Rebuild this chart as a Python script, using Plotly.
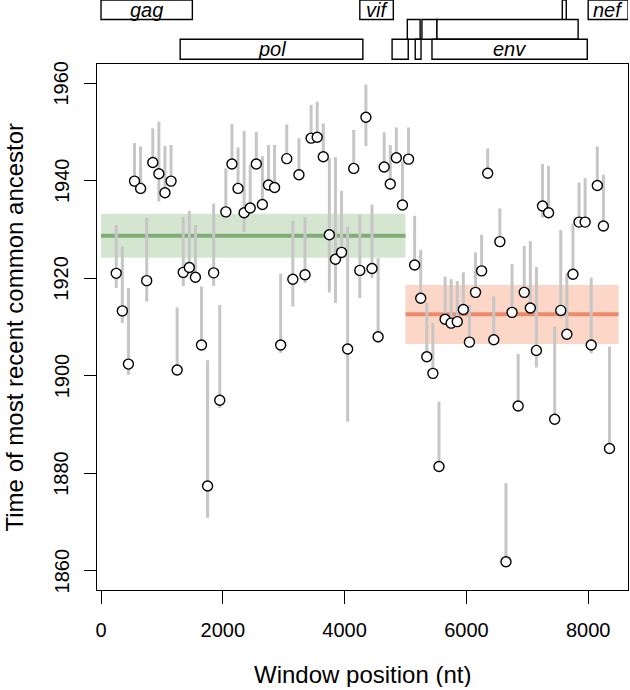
import plotly.graph_objects as go

# ---------------- data ----------------
window_pos = [250, 350, 450, 550, 650, 750, 850, 950, 1050, 1150,
              1250, 1350, 1450, 1550, 1650, 1750, 1850, 1950, 2050, 2150,
              2250, 2350, 2450, 2550, 2650, 2750, 2850, 2950, 3050, 3150,
              3250, 3350, 3450, 3550, 3650, 3750, 3850, 3950, 4050, 4150,
              4250, 4350, 4450, 4550, 4650, 4750, 4850, 4950, 5050, 5150,
              5250, 5350, 5450, 5550, 5650, 5750, 5850, 5950, 6050, 6150,
              6250, 6350, 6450, 6550, 6650, 6750, 6850, 6950, 7050, 7150,
              7250, 7350, 7450, 7550, 7650, 7750, 7850, 7950, 8050, 8150,
              8250, 8350]

tmrca = [1921.0, 1913.3, 1902.4, 1939.9, 1938.4, 1919.5, 1943.7, 1941.4, 1937.5, 1939.9,
         1901.2, 1921.2, 1922.2, 1920.2, 1906.3, 1877.4, 1921.1, 1895.0, 1933.6, 1943.4,
         1938.4, 1933.4, 1934.4, 1943.4, 1935.1, 1939.1, 1938.6, 1906.3, 1944.5, 1919.8,
         1941.2, 1920.7, 1948.7, 1948.9, 1944.9, 1928.9, 1923.9, 1925.3, 1905.5, 1942.5,
         1921.6, 1953.0, 1922.0, 1908.0, 1942.8, 1939.3, 1944.7, 1935.0, 1944.4, 1922.7,
         1915.9, 1903.9, 1900.5, 1881.4, 1911.6, 1910.8, 1911.1, 1913.6, 1906.9, 1917.1,
         1921.5, 1941.5, 1907.4, 1927.5, 1861.9, 1913.0, 1893.8, 1917.1, 1913.9, 1905.2,
         1934.8, 1933.4, 1891.1, 1913.4, 1908.5, 1920.8, 1931.5, 1931.5, 1906.3, 1939.0,
         1930.7, 1885.1]

upper = [1930.9, 1926.5, 1918.0, 1947.7, 1947.0, 1932.4, 1950.7, 1952.1, 1947.1, 1947.3,
         1914.0, 1932.6, 1933.8, 1930.9, 1918.3, 1903.2, 1935.3, 1914.5, 1942.5, 1951.6,
         1946.8, 1950.2, 1943.2, 1950.0, 1945.0, 1947.3, 1947.3, 1920.9, 1951.5, 1931.8,
         1948.7, 1932.5, 1955.5, 1956.2, 1951.7, 1944.6, 1944.8, 1937.9, 1930.6, 1950.4,
         1933.0, 1959.7, 1935.1, 1924.1, 1949.9, 1947.3, 1950.9, 1943.9, 1950.9, 1932.8,
         1925.8, 1915.0, 1910.9, 1894.7, 1920.3, 1919.8, 1919.4, 1921.2, 1914.5, 1925.3,
         1928.9, 1946.6, 1916.3, 1934.3, 1878.0, 1922.9, 1904.5, 1926.6, 1927.6, 1922.3,
         1943.4, 1943.0, 1910.1, 1929.9, 1921.0, 1931.2, 1939.6, 1940.5, 1920.1, 1947.0,
         1941.2, 1906.0]

lower = [1918.0, 1910.8, 1900.2, 1939.5, 1938.0, 1915.2, 1943.2, 1935.7, 1937.0, 1939.5,
         1900.8, 1918.4, 1921.5, 1919.8, 1905.8, 1870.9, 1918.4, 1893.4, 1933.2, 1943.0,
         1938.0, 1929.5, 1934.0, 1943.0, 1934.0, 1938.7, 1938.2, 1904.7, 1944.1, 1914.2,
         1940.8, 1919.0, 1948.3, 1948.5, 1944.5, 1917.1, 1914.9, 1924.0, 1890.6, 1942.1,
         1915.9, 1947.1, 1920.0, 1906.7, 1942.4, 1938.9, 1944.3, 1934.6, 1944.0, 1922.3,
         1915.5, 1903.5, 1900.1, 1881.0, 1911.2, 1910.4, 1910.7, 1913.2, 1906.5, 1916.7,
         1921.1, 1941.1, 1907.0, 1927.1, 1861.5, 1912.6, 1893.4, 1916.7, 1913.5, 1901.7,
         1932.4, 1933.0, 1890.7, 1911.8, 1908.1, 1920.4, 1931.1, 1931.1, 1904.6, 1938.6,
         1930.3, 1884.7]

# regional summaries (start, end, mean, lower, upper)
region_start = [0, 5000]
region_end = [5000, 8500]
region_mean = [1928.7, 1912.6]
region_low = [1924.2, 1906.5]
region_high = [1933.2, 1918.6]
region_fill = ["#d4e6cf", "#fcd6c6"]
region_line = ["#80ad76", "#ee8a6c"]

# gene map: name, start, end, row (0 = bottom, 2 = top), rows spanned
gene_names = ["gag", "vif", "", "nef", "", "", "", "pol", "", "", "env"]
gene_start = [0, 4250, 7575, 8000, 5030, 5270, 5517, 1300, 4780, 5160, 5435]
gene_end = [1500, 4800, 7640, 8655, 5240, 5517, 7835, 4300, 5045, 5255, 7985]
gene_row = [2, 2, 2, 2, 1, 1, 1, 0, 0, 0, 0]
gene_span = [1, 1, 2, 1, 1, 1, 1, 1, 1, 1, 1]

x_ticks = [0, 2000, 4000, 6000, 8000]
y_ticks = [1860, 1880, 1900, 1920, 1940, 1960]

FONT = "Liberation Sans, Arial, sans-serif"

fig = go.Figure()

# error segments
bx, by = [], []
for xp, lo, hi in zip(window_pos, lower, upper):
    bx += [xp, xp, None]
    by += [lo, hi, None]
fig.add_trace(go.Scatter(x=bx, y=by, mode="lines",
                         line=dict(color="#c6c6c6", width=3),
                         hoverinfo="skip", showlegend=False))

# points
fig.add_trace(go.Scatter(x=window_pos, y=tmrca, mode="markers",
                         marker=dict(size=10, color="white",
                                     line=dict(color="black", width=1.4)),
                         showlegend=False))

shapes = []
for s, e, m, lo, hi, fc, lc in zip(region_start, region_end, region_mean,
                                   region_low, region_high, region_fill, region_line):
    shapes.append(dict(type="rect", xref="x", yref="y", x0=s, x1=e, y0=lo, y1=hi,
                       fillcolor=fc, line=dict(width=0), layer="below"))
    shapes.append(dict(type="line", xref="x", yref="y", x0=s, x1=e, y0=m, y1=m,
                       line=dict(color=lc, width=4), layer="below"))

# gene rows in paper coordinates (above plot)
row_edges = [1.0089, 1.0471, 1.0846, 1.1215]
annotations = []
for name, s, e, r, sp in zip(gene_names, gene_start, gene_end, gene_row, gene_span):
    y0 = row_edges[r + 1 - sp]
    y1 = row_edges[r + 1]
    shapes.append(dict(type="rect", xref="x", yref="paper", x0=s, x1=e, y0=y0, y1=y1,
                       fillcolor="white", line=dict(color="black", width=1.4),
                       layer="above"))
    if name:
        annotations.append(dict(x=(s + e) / 2, y=(y0 + y1) / 2, xref="x", yref="paper",
                                text="<i>%s</i>" % name, showarrow=False,
                                font=dict(family=FONT, size=20, color="black"),
                                xanchor="center", yanchor="middle"))

# y tick labels (vertical, R style), placed on the y scale
for v in y_ticks:
    annotations.append(dict(x=-0.0669, y=v, xref="paper", yref="y", text=str(v),
                            showarrow=False, textangle=-90,
                            font=dict(family=FONT, size=20, color="black"),
                            xanchor="center", yanchor="middle"))

annotations.append(dict(x=0.5, y=-0.16, xref="paper", yref="paper",
                        text="Window position (nt)", showarrow=False, height=26,
                        font=dict(family=FONT, size=24, color="black"),
                        xanchor="center", yanchor="middle"))
annotations.append(dict(x=-0.1554, y=0.5, xref="paper", yref="paper",
                        text="Time of most recent common ancestor", showarrow=False,
                        textangle=-90,
                        font=dict(family=FONT, size=24, color="black"),
                        xanchor="center", yanchor="middle"))

fig.update_layout(
    width=630, height=690,
    margin=dict(l=97, r=2, t=64, b=100),
    paper_bgcolor="white", plot_bgcolor="white",
    shapes=shapes, annotations=annotations,
    font=dict(family=FONT, color="black"),
    xaxis=dict(range=[-66, 8654], tickvals=x_ticks, ticktext=[str(v) for v in x_ticks],
               showgrid=False, zeroline=False, showline=True, mirror=True,
               linecolor="black", linewidth=1.4, ticks="outside", ticklen=13,
               tickwidth=1.4, tickcolor="black", tickfont=dict(size=20),
               ticklabelstandoff=9),
    yaxis=dict(range=[1856.1, 1963.9], tickvals=y_ticks, showticklabels=False,
               showgrid=False, zeroline=False, showline=True, mirror=True,
               linecolor="black", linewidth=1.4, ticks="outside", ticklen=12,
               tickwidth=1.4, tickcolor="black"),
)

fig.write_html("out.html", config={"displayModeBar": False},
               post_script="document.body.style.margin='0px';document.body.style.overflow='hidden';")
